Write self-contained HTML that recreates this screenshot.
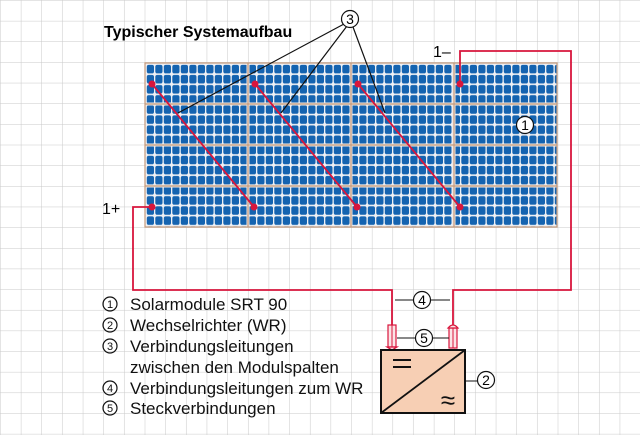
<!DOCTYPE html>
<html><head><meta charset="utf-8"><style>
html,body{margin:0;padding:0;background:#fff}
svg{display:block}
text{font-family:"Liberation Sans",sans-serif}
</style></head><body>
<svg width="640" height="435" viewBox="0 0 640 435" xmlns="http://www.w3.org/2000/svg">
<defs>
<pattern id="grid" x="0.7" y="0.7" width="20.65" height="20.65" patternUnits="userSpaceOnUse">
<path d="M20.65 0V20.65M0 20.65H20.65" stroke="#c9c9c9" stroke-width="1" fill="none"/>
</pattern>
<pattern id="cells" x="146" y="64" width="8.5" height="10.1" patternUnits="userSpaceOnUse">
<rect x="0.8" y="0.8" width="7.2" height="8.6" rx="2" fill="#1463b0"/>
</pattern>
</defs>
<rect width="640" height="435" fill="#fff"/>
<rect width="640" height="435" fill="url(#grid)"/>
<rect x="145" y="63" width="412" height="164" fill="#eef0f4"/>
<rect x="145" y="63" width="412" height="164" fill="url(#cells)"/>
<g stroke="#f0e8e4" stroke-width="3" fill="none">
<path d="M248 63V227M351 63V227M454 63V227M145 104H557M145 145H557M145 186H557"/>
</g>
<g stroke="#c49a7c" stroke-width="1.2" fill="none">
<rect x="145" y="63" width="412" height="164"/>
<path d="M248 63V227M351 63V227M454 63V227M145 104H557M145 145H557M145 186H557"/>
</g>
<g stroke="#111" stroke-width="1.2" fill="none">
<path d="M344 24L178 113M347 26L281 113M353 27L385 113"/>
</g>
<circle cx="350" cy="19" r="8.5" fill="#fff" stroke="#111" stroke-width="1.2"/>
<text x="350" y="24" font-size="14" text-anchor="middle">3</text>
<g stroke="#d8163c" stroke-width="1.8" fill="none">
<path d="M152 84L254 207M255 84L357 207M358 84L460 207"/>
<path d="M152 207H133V290H392V325"/>
<path d="M460 84V51H571V290H453V325"/>
</g>
<g fill="#d8163c">
<circle cx="152" cy="84" r="3.5"/><circle cx="254" cy="207" r="3.5"/>
<circle cx="255" cy="84" r="3.5"/><circle cx="357" cy="207" r="3.5"/>
<circle cx="358" cy="84" r="3.5"/><circle cx="460" cy="207" r="3.5"/>
<circle cx="460" cy="84" r="3.5"/><circle cx="152" cy="207" r="3.5"/>
</g>
<g stroke="#d8163c" stroke-width="1.2" fill="#fbe4e6">
<rect x="388" y="325" width="8" height="22"/>
<path d="M387 347h10l-5 3z"/>
<rect x="449" y="328" width="8" height="20"/>
<path d="M448 328q5 -6 10 0z"/>
</g>
<g stroke="#d8163c" stroke-width="1" fill="none"><path d="M392 325V347M453 328V348"/></g>
<g stroke="#111" stroke-width="1" fill="none">
<path d="M395 300H414M430 300H450M397 338H416M432 338H449M465 381H478"/>
</g>
<g fill="#fff" stroke="#111" stroke-width="1.2">
<circle cx="422" cy="300" r="8.5"/><circle cx="424" cy="338" r="8.5"/><circle cx="486" cy="380" r="8.5"/>
<circle cx="525" cy="125" r="8.5"/>
</g>
<g font-size="14" text-anchor="middle">
<text x="422" y="305">4</text><text x="424" y="343">5</text><text x="486" y="385">2</text><text x="525" y="130">1</text>
</g>
<rect x="381" y="350" width="84" height="63" fill="#f7cfb4" stroke="#111" stroke-width="2"/>
<path d="M381 413L465 350" stroke="#111" stroke-width="1.8"/>
<path d="M393 360h18M393 367h18" stroke="#111" stroke-width="2"/>
<text x="448" y="409" font-size="26" text-anchor="middle" fill="#111">≈</text>
<text x="104" y="37" font-size="16" font-weight="bold">Typischer Systemaufbau</text>
<text x="433" y="57" font-size="16">1–</text>
<text x="102" y="214" font-size="16">1+</text>
<g fill="none" stroke="#111" stroke-width="1.2">
<circle cx="110" cy="304" r="7"/><circle cx="110" cy="325" r="7"/><circle cx="110" cy="346" r="7"/>
<circle cx="110" cy="388" r="7"/><circle cx="110" cy="408" r="7"/>
</g>
<g font-size="11" text-anchor="middle" fill="#111">
<text x="110" y="308">1</text><text x="110" y="329">2</text><text x="110" y="350">3</text>
<text x="110" y="392">4</text><text x="110" y="412">5</text>
</g>
<g font-size="17" fill="#111">
<text x="130" y="310">Solarmodule SRT 90</text>
<text x="130" y="331">Wechselrichter (WR)</text>
<text x="130" y="352">Verbindungsleitungen</text>
<text x="130" y="373">zwischen den Modulspalten</text>
<text x="130" y="394">Verbindungsleitungen zum WR</text>
<text x="130" y="414">Steckverbindungen</text>
</g>
</svg>
</body></html>
